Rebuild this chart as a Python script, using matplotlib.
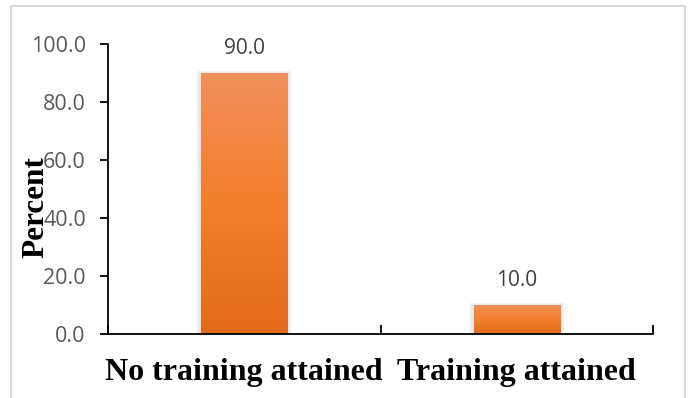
import matplotlib
matplotlib.use("Agg")
import matplotlib.pyplot as plt
import numpy as np
from matplotlib.patches import Rectangle
from matplotlib.colors import LinearSegmentedColormap

categories = ["No training attained", "Training attained"]
percent = [90.0, 10.0]
yticks = [0.0, 20.0, 40.0, 60.0, 80.0, 100.0]

W, H, DPI = 691, 398, 100
fig = plt.figure(figsize=(W / DPI, H / DPI), dpi=DPI)
fig.patch.set_facecolor("white")

# light chart-area frame
fig.add_artist(Rectangle((11 / W, -0.05), (685 - 11) / W, 1.05 - 6 / H,
                         transform=fig.transFigure, fill=False,
                         edgecolor="#D9D9D9", linewidth=1.5))

left, right = 108 / W, 653 / W
bottom, top = (H - 334) / H, (H - 44) / H
ax = fig.add_axes([left, bottom, right - left, top - bottom])

x = np.arange(len(categories))
bar_w = 0.316
ax.set_xlim(-0.5, len(categories) - 0.5)
ax.set_ylim(0, 100)

cmap = LinearSegmentedColormap.from_list(
    "bar_grad", ["#E3691B", "#F47F2E", "#F0905A"])
grad = np.linspace(0, 1, 256).reshape(-1, 1)

ax_w_px = (right - left) * W
ax_h_px = (top - bottom) * H
px_x = (len(categories)) / ax_w_px
px_y = 100 / ax_h_px

bars = ax.bar(x, percent, width=bar_w, color="none", zorder=3)
for rect, val in zip(bars, percent):
    x0, w = rect.get_x(), rect.get_width()
    # soft shadow behind the bar
    for k in range(1, 6):
        ax.add_patch(Rectangle((x0 - k * px_x, -1), w + 2 * k * px_x,
                               val + 1 + k * px_y * 0.4,
                               facecolor="#7F7F7F", alpha=0.045,
                               edgecolor="none", zorder=1))
    im = ax.imshow(grad, extent=(x0, x0 + w, 0, val), origin="lower",
                   cmap=cmap, aspect="auto", zorder=2)
    clip = Rectangle((x0, 0), w, val, transform=ax.transData)
    im.set_clip_path(clip)
    ax.annotate(f"{val:.1f}", (rect.get_x() + w / 2, val),
                xytext=(0, 18), textcoords="offset points",
                ha="center", va="center", fontsize=15,
                family="Open Sans", color="#404040")

ax.set_xlim(-0.5, len(categories) - 0.5)
ax.set_ylim(0, 100)

for s in ["top", "right"]:
    ax.spines[s].set_visible(False)
ax.spines["left"].set_linewidth(1.3)
ax.spines["bottom"].set_linewidth(1.3)
ax.spines["left"].set_zorder(5)
ax.spines["bottom"].set_zorder(5)

ax.set_yticks(yticks)
ax.set_yticklabels([f"{v:.1f}" for v in yticks], family="Open Sans",
                   fontsize=15.5, color="#595959")
ax.tick_params(axis="y", direction="out", length=6, width=1.3, pad=10)

# category boundaries and centres marked with inward ticks
ax.set_xticks([-0.5, 0.5, 1.5], minor=False)
ax.set_xticklabels([])
ax.set_xticks(x, minor=True)
ax.set_xticklabels(categories, minor=True, family="Liberation Serif",
                   fontweight="bold", fontsize=23, color="black")
ax.tick_params(axis="x", which="major", direction="in", length=6.5, width=1.3)
ax.tick_params(axis="x", which="minor", direction="in", length=5, width=1.3,
               pad=17)

fig.text(36 / W, 1 - 207 / H, "Percent", rotation=90, ha="center",
         va="center", family="Liberation Serif", fontweight="bold",
         fontsize=22.5, color="black", zorder=10)

fig.savefig("out.png", dpi=DPI, facecolor="white")
